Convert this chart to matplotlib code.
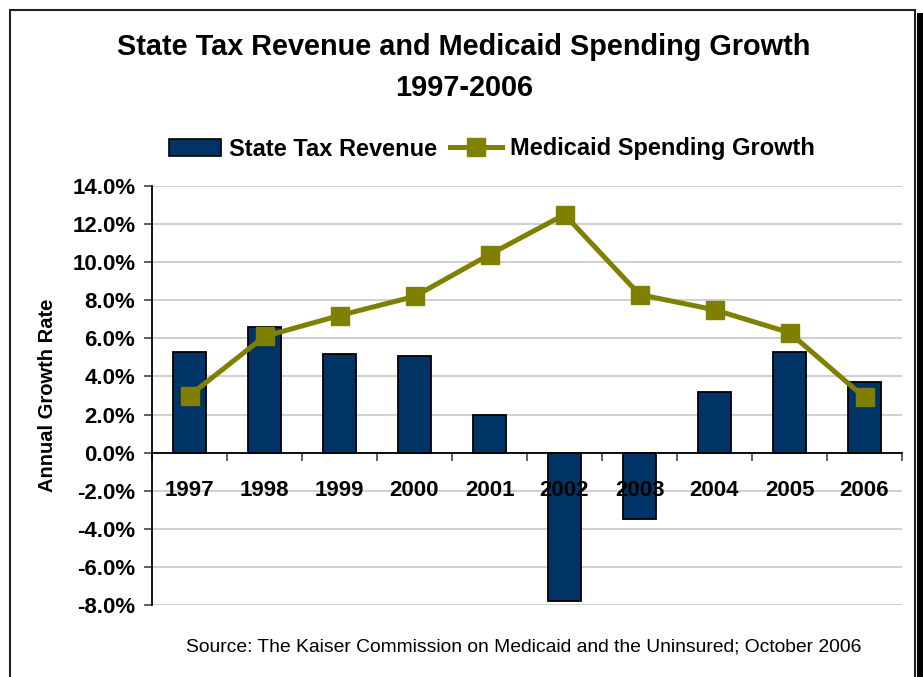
import matplotlib
matplotlib.use('Agg')
import matplotlib.pyplot as plt
from matplotlib.patches import Rectangle, Patch
from matplotlib.lines import Line2D
from matplotlib.ticker import FuncFormatter

plt.rcParams['font.family'] = ['Liberation Sans', 'DejaVu Sans']

years = ['1997', '1998', '1999', '2000', '2001', '2002', '2003', '2004', '2005', '2006']
tax_revenue = [5.3, 6.6, 5.2, 5.1, 2.0, -7.8, -3.5, 3.2, 5.3, 3.7]
medicaid_growth = [3.0, 6.1, 7.2, 8.2, 10.4, 12.5, 8.3, 7.5, 6.3, 2.9]

W, H = 923, 677
fig = plt.figure(figsize=(W / 100, H / 100), dpi=100)
fig.patch.set_facecolor('white')

# frame and shadow on the right
fig.patches.append(Rectangle((9.5 / W, -0.05), (915 - 9.5) / W, 1.05 - 9.5 / H,
                             transform=fig.transFigure, fill=False,
                             edgecolor='#222222', linewidth=1.5))
fig.patches.append(Rectangle((917 / W, 0), 6 / W, 1 - 13 / H,
                             transform=fig.transFigure, facecolor='black',
                             edgecolor='none'))

ax = fig.add_axes([152 / W, 1 - 605 / H, 750 / W, 419 / H])
x = list(range(len(years)))

ax.bar(x, tax_revenue, width=0.43, color='#003366', edgecolor='black',
       linewidth=1.3, zorder=3)
ax.plot(x, medicaid_growth, color='#808000', linewidth=3.6, marker='s',
        markersize=12.5, zorder=4)

ax.set_xlim(-0.5, 9.5)
ax.set_ylim(-8, 14)
ax.set_yticks(range(-8, 15, 2))
ax.yaxis.set_major_formatter(FuncFormatter(lambda v, p: f'{v:.1f}%'))
ax.grid(axis='y', color='#c8c8c8', linewidth=1.2, zorder=0)
ax.set_axisbelow(True)

for s in ['top', 'right']:
    ax.spines[s].set_visible(False)
ax.spines['bottom'].set_position(('data', 0))
ax.spines['bottom'].set_linewidth(1.3)
ax.spines['left'].set_linewidth(1.3)

# year labels sit on top of the bars, just under the zero line
ax.set_xticks([i - 0.5 for i in range(len(years) + 1)])
ax.set_xticklabels([])
ax.tick_params(axis='x', length=6, width=1.2, direction='out', color='#444444')
for i, yr in enumerate(years):
    ax.text(i, -2.0, yr, ha='center', va='center', fontsize=16,
            fontweight='bold', zorder=6)

ax.tick_params(axis='y', length=6, width=1.2, direction='out', color='#444444', pad=6)
for lab in ax.get_yticklabels():
    lab.set_fontsize(16)
    lab.set_fontweight('bold')

ax.set_ylabel('Annual Growth Rate', fontsize=14.5, fontweight='bold')
ax.yaxis.set_label_coords(-(152 - 45) / 750 + 0.016, 0.5)

fig.text(464 / W, 1 - 47 / H, 'State Tax Revenue and Medicaid Spending Growth',
         ha='center', va='center', fontsize=20.8, fontweight='bold')
fig.text(464 / W, 1 - 88 / H, '1997-2006', ha='center', va='center',
         fontsize=20.8, fontweight='bold')

handles = [Patch(facecolor='#003366', edgecolor='black', linewidth=1.2),
           Line2D([], [], color='#808000', linewidth=3.6, marker='s', markersize=12.5)]
fig.legend(handles, ['State Tax Revenue', 'Medicaid Spending Growth'],
           loc='center', bbox_to_anchor=(492 / W, 1 - 149 / H), ncol=2,
           frameon=False, prop={'weight': 'bold', 'size': 17},
           handlelength=2.2, handletextpad=0.35, columnspacing=0.55)

fig.text(524 / W, 1 - 647 / H,
         'Source: The Kaiser Commission on Medicaid and the Uninsured; October 2006',
         ha='center', va='center', fontsize=13.9)

fig.savefig('out.png', dpi=100)
